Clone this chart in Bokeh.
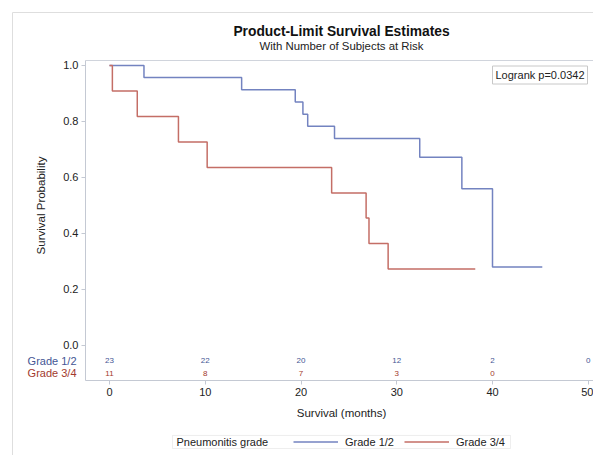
from math import pi
from bokeh.plotting import figure
from bokeh.models import (Range1d, FixedTicker, Label, Legend, LegendItem, BoxAnnotation,
                          ColumnDataSource, PrintfTickFormatter, LinearAxis)
from bokeh.core.properties import value
from bokeh.embed import file_html
from bokeh.resources import INLINE

# ---- data ----
g12_time = [0, 3.6, 13.8, 19.4, 20.2, 20.7, 23.5, 32.4, 36.8, 40.0, 45.2]
g12_surv = [1.0, 0.957, 0.913, 0.870, 0.826, 0.783, 0.739, 0.672, 0.560, 0.280, 0.280]
g34_time = [0, 0.3, 2.9, 7.2, 10.2, 23.2, 26.8, 27.1, 29.1, 38.2]
g34_surv = [1.0, 0.909, 0.818, 0.727, 0.636, 0.545, 0.455, 0.364, 0.273, 0.273]

risk_times_g12 = [0, 10, 20, 30, 40, 50]
risk_g12 = [23, 22, 20, 12, 2, 0]
risk_times_g34 = [0, 10, 20, 30, 40]
risk_g34 = [11, 8, 7, 3, 0]

x_ticks = [0, 10, 20, 30, 40, 50]
y_ticks = [0.0, 0.2, 0.4, 0.6, 0.8, 1.0]
group_names = ["Grade 1/2", "Grade 3/4"]
legend_title = "Pneumonitis grade"
logrank_text = "Logrank p=0.0342"

FONT = "Liberation Sans"
BLUE = "#445694"
RED = "#A23A2E"
BLUE_L = "#7383c0"
RED_L = "#c46e66"
TXT = "#222222"
AXC = "#c4c9d3"

# plot-area extents (data units)
X0, X1 = -2.51, 50.55
Y0, Y1 = -0.125, 1.018
ROW12_Y, ROW34_Y = -0.054, -0.100

p = figure(width=593, height=455, output_backend="svg", toolbar_location=None,
           x_range=Range1d(-11.384, 50.548), y_range=Range1d(-0.39286, 1.2321),
           min_border_left=0, min_border_right=0, min_border_top=0,
           min_border_bottom=0)
p.grid.visible = False
p.outline_line_color = None
p.background_fill_color = "white"
p.border_fill_color = "white"

# main axes placed at the plot-area edges
xa = p.below[0]
ya = p.left[0]
xa.fixed_location = Y0
ya.fixed_location = X0
xa.bounds = (X0, X1)
ya.bounds = (Y0, Y1)
for ax in (xa, ya):
    ax.axis_line_color = AXC
    ax.major_tick_line_color = AXC
    ax.major_tick_in = 0
    ax.major_tick_out = 4
    ax.minor_tick_line_color = None
    ax.major_label_text_font = FONT
    ax.major_label_text_font_size = "11px"
    ax.major_label_text_color = TXT
xa.ticker = FixedTicker(ticks=x_ticks)
ya.ticker = FixedTicker(ticks=y_ticks)
ya.formatter = PrintfTickFormatter(format="%.1f")
xa.major_label_standoff = 4
ya.major_label_standoff = 3


def rule(side, loc, bounds, color):
    """A plain line (axis without ticks or labels) used for frame borders."""
    ax = LinearAxis(fixed_location=loc, bounds=bounds, ticker=FixedTicker(ticks=[]),
                    axis_line_color=color, major_tick_line_color=None,
                    minor_tick_line_color=None, major_label_text_font_size="0px")
    p.add_layout(ax, side)


# outer graph border (left + top) and plot-area top border
rule("left", -10.13, (-1.0, 1.189), "#dedede")
rule("above", 1.189, (-10.13, 60), "#dedede")
rule("above", Y1, (X0, X1), "#d0d4dc")

# survival curves
r12 = p.step(g12_time, g12_surv, mode="after", line_color=BLUE_L, line_width=1.5)
r34 = p.step(g34_time, g34_surv, mode="after", line_color=RED_L, line_width=1.5)

# numbers at risk
src12 = ColumnDataSource(dict(x=risk_times_g12, y=[ROW12_Y] * len(risk_times_g12),
                              t=[str(v) for v in risk_g12]))
src34 = ColumnDataSource(dict(x=risk_times_g34, y=[ROW34_Y] * len(risk_times_g34),
                              t=[str(v) for v in risk_g34]))
p.text(x="x", y="y", text="t", source=src12, text_color=BLUE, text_font=value(FONT),
       text_font_size="8px", text_align="center", text_baseline="middle")
p.text(x="x", y="y", text="t", source=src34, text_color=RED, text_font=value(FONT),
       text_font_size="8px", text_align="center", text_baseline="middle")


def lab(x, y, text, **kw):
    opts = dict(text_font=FONT, text_font_size="11px", text_color=TXT,
                text_baseline="middle", text_align="center")
    opts.update(kw)
    p.add_layout(Label(x=x, x_units="screen", y=y, y_units="data", text=text, **opts))


lab(76, ROW12_Y, group_names[0], text_align="right", text_color=BLUE)
lab(76, ROW34_Y, group_names[1], text_align="right", text_color=RED)

# axis titles
lab(40, 0.5, "Survival Probability", angle=pi / 2, text_font_size="11.5px")
lab(341, -0.2393, "Survival (months)", text_font_size="11.5px")

# titles
lab(341, 1.121, "Product-Limit Survival Estimates", text_font_size="13.8px",
    text_font_style="bold", text_color="#111111")
lab(341, 1.071, "With Number of Subjects at Risk", text_font_size="11.4px")

# logrank box
lab(587, 0.966, logrank_text, text_align="right", padding=3,
    border_line_color="#c8c8c8", background_fill_color="white")

# legend: enclosing box, title text and entries
p.add_layout(BoxAnnotation(left=6.58, right=41.88, top=-0.3214, bottom=-0.3679,
                           fill_alpha=0, line_color="#c8c8c8", line_width=1))
lab(176, -0.3446, legend_title, text_align="left")
legend_pos = [(293, 7), (404, 7)]
for rend, name, loc in zip((r12, r34), group_names, legend_pos):
    lg = Legend(items=[LegendItem(label=name, renderers=[rend])], location=loc,
                glyph_width=45, glyph_height=13, label_height=13, label_standoff=7,
                padding=0, margin=0, border_line_color=None,
                background_fill_alpha=0, label_text_font=FONT,
                label_text_font_size="11px", label_text_color=TXT)
    p.add_layout(lg, "center")

open("out.html", "w").write(file_html(p, INLINE))
